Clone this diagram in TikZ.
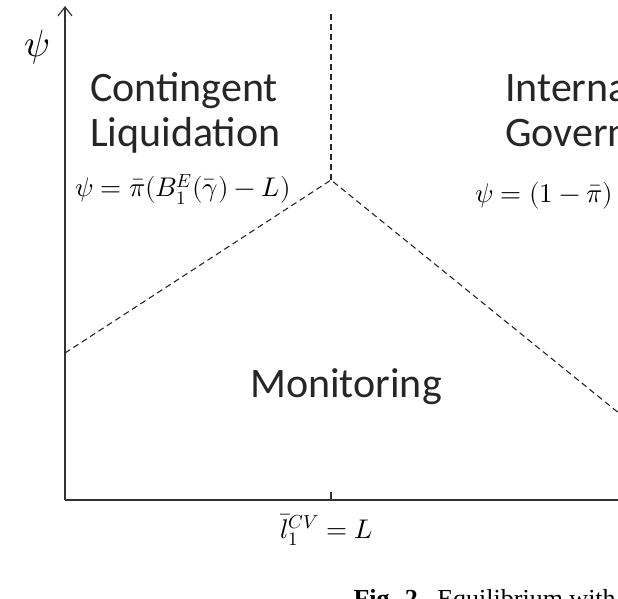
\documentclass[tikz,border=0pt]{standalone}
\usepackage{fontspec}
\usepackage{unicode-math}
\setmainfont{Carlito}
\setmathfont{Latin Modern Math}
\usetikzlibrary{arrows.meta}
\begin{document}
\begin{tikzpicture}[x=1pt,y=1pt,
  axis/.style={line width=1.4pt,draw=black!80},
  border/.style={dashed,line width=1.1pt,dash pattern=on 6pt off 4pt,draw=black!85},
  region/.style={font=\fontsize{42}{45}\selectfont,text=black!85,inner sep=0pt,align=left},
  eq/.style={font=\fontsize{27}{30}\selectfont,inner sep=0pt}]
\useasboundingbox (0,0) rectangle (618,598);
\clip (0,0) rectangle (618,598);
% axes
\coordinate (O) at (65,98);
\coordinate (ytop) at (65,592);
\coordinate (xend) at (625,98);
\coordinate (tickb) at (331,98);
\coordinate (tickt) at (331,106);
\draw[axis,-{Straight Barb[length=9pt,width=14pt,line width=1.2pt]}] (O) -- (ytop);
\draw[axis] (O) -- (xend);
\draw[axis] (tickb) -- (tickt);
% boundaries
\coordinate (V) at (331,418);
\coordinate (vtop) at (331,588);
\coordinate (L) at (65,245);
\coordinate (R) at (625,180);
\draw[border] (V) -- (vtop);
\draw[border] (L) -- (V) -- (R);
% labels
\node[font=\fontsize{38}{38}\selectfont] (psi) at (37,551) {$\psi$};
\node[region,anchor=base west] (cl) at (90,451) {Contingent\\Liquidation};
\node[eq,anchor=base west] (cleq) at (75,401) {$\psi=\bar\pi(B_1^E(\bar\gamma)-L)$};
\node[region,anchor=base west] (ig) at (505,451) {Internal\\Governance};
\node[eq,anchor=base west] (igeq) at (475,395) {$\psi=(1-\bar\pi)$};
\node[region,anchor=base] (mon) at (346,201) {Monitoring};
\node[eq,anchor=base west] (xl) at (280,60) {$\bar l_1^{CV}=L$};
\node[font=\fontsize{26}{30}\selectfont,anchor=base west] (cap) at (350,-9) {\fontspec{Liberation Serif}\textbf{Fig. 2.}\enspace Equilibrium with};
\end{tikzpicture}
\end{document}
